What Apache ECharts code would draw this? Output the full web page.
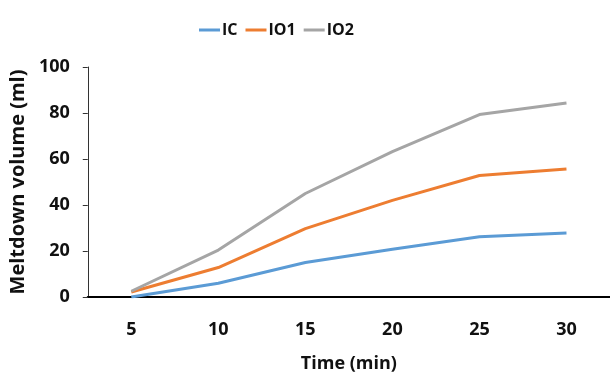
<!DOCTYPE html>
<html><head><meta charset="utf-8">
<script src="https://cdn.jsdelivr.net/npm/echarts@6/dist/echarts.min.js"></script>
<style>html,body{margin:0;padding:0;background:#fff}#c{width:610px;height:378px}</style>
</head><body><div id="c"></div>
<script>
const categories = ['5','10','15','20','25','30'];
const seriesNames = ['IC','IO1','IO2'];
const IC  = [0, 6, 15, 20.8, 26.2, 27.8];
const IO1 = [2.2, 12.8, 29.7, 42, 52.8, 55.7];
const IO2 = [2.5, 20.4, 45, 63.2, 79.3, 84.3];
const colors = ['#5B9BD5','#ED7D31','#A5A5A5'];
const font = '"Open Sans", "Liberation Sans", sans-serif';
const chart = echarts.init(document.getElementById('c'));
chart.setOption({
  animation:false,
  textStyle:{fontFamily:font},
  legend:{top:17,left:194,icon:'rect',itemWidth:21,itemHeight:3,itemGap:8,
    textStyle:{fontFamily:font,fontWeight:'bold',fontSize:16,color:'#111',padding:[0,0,0,-3]},
    data:seriesNames},
  grid:{left:87,top:67,width:526,height:232},
  xAxis:{type:'category',data:categories,boundaryGap:true,
    axisLine:{lineStyle:{color:'#000',width:2}},axisTick:{show:false},
    axisLabel:{fontFamily:font,fontWeight:'bold',fontSize:18,color:'#111',margin:24},
    name:'Time (min)',nameLocation:'middle',nameGap:58,
    nameTextStyle:{fontFamily:font,fontWeight:'bold',fontSize:18,color:'#111'}},
  yAxis:{type:'value',min:0,max:100,interval:20,
    axisLine:{show:true,lineStyle:{color:'#333',width:1}},
    axisTick:{show:true,length:5,lineStyle:{color:'#333'}},
    splitLine:{show:false},
    axisLabel:{fontFamily:font,fontWeight:'bold',fontSize:18,color:'#111',margin:18},
    name:'Meltdown volume (ml)',nameLocation:'middle',nameGap:52,nameRotate:90,
    nameTextStyle:{fontFamily:font,fontWeight:'bold',fontSize:20,color:'#111'}},
  series:[
    {name:'IC',type:'line',data:IC,showSymbol:false,lineStyle:{width:3,color:colors[0]},itemStyle:{color:colors[0]}},
    {name:'IO1',type:'line',data:IO1,showSymbol:false,lineStyle:{width:3,color:colors[1]},itemStyle:{color:colors[1]}},
    {name:'IO2',type:'line',data:IO2,showSymbol:false,lineStyle:{width:3,color:colors[2]},itemStyle:{color:colors[2]}}
  ]
});
</script></body></html>
